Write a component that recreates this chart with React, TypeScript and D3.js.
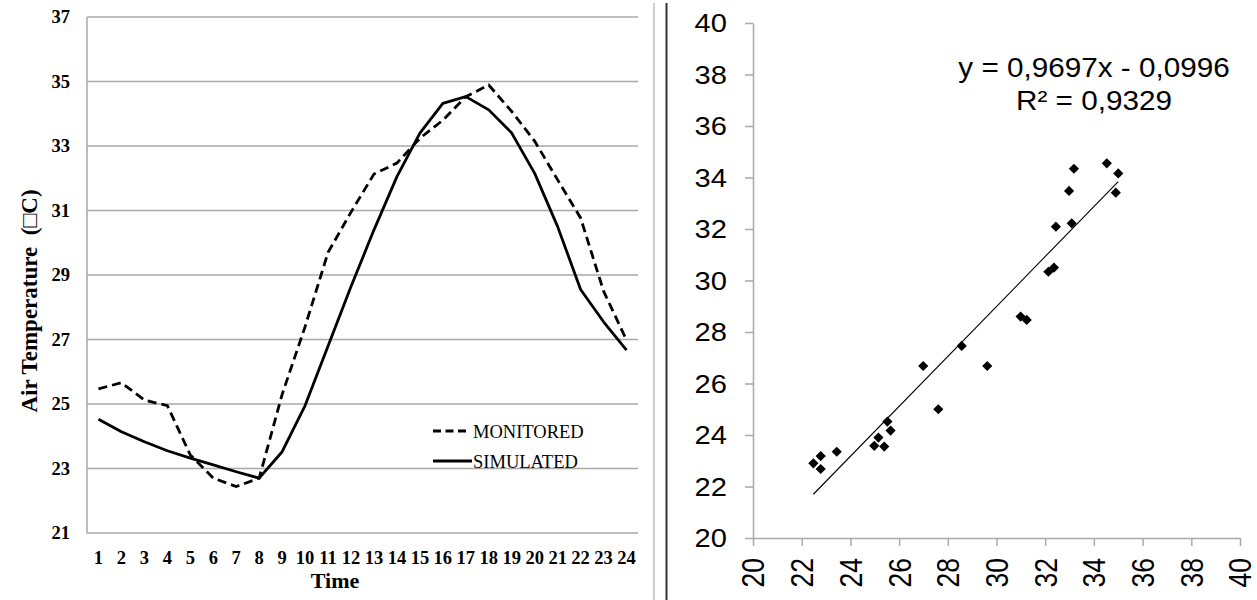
import React, { useEffect, useRef } from 'react';
import * as d3 from 'd3';

// Left chart: hourly air temperature
const hours = d3.range(1, 25);
const monitored = [25.47, 25.66, 25.12, 24.95, 23.42, 22.7, 22.44, 22.7, 25.3, 27.4, 29.7, 30.95,
  32.13, 32.47, 33.24, 33.8, 34.53, 34.89, 34.07, 33.15, 31.95, 30.77, 28.5, 26.98];
const simulated = [24.53, 24.14, 23.83, 23.55, 23.32, 23.11, 22.9, 22.7, 23.52, 24.95, 26.8, 28.64,
  30.4, 32.05, 33.4, 34.32, 34.53, 34.12, 33.4, 32.15, 30.5, 28.55, 27.55, 26.67];
const leftTicks = [21, 23, 25, 27, 29, 31, 33, 35, 37];

// Right chart: monitored (x) vs simulated (y)
const scatterX = [22.48, 22.78, 22.78, 23.44, 24.98, 25.15, 25.39, 25.52, 25.65, 26.99, 27.61, 28.57,
  29.62, 30.99, 31.24, 32.13, 32.36, 32.44, 33.09, 32.98, 33.18, 34.53, 35.0, 34.9];
const scatterY = [22.9, 23.18, 22.68, 23.35, 23.58, 23.9, 23.55, 24.52, 24.17, 26.68, 25.0, 27.46,
  26.68, 28.6, 28.47, 30.34, 30.5, 32.09, 32.22, 33.48, 34.34, 34.55, 34.16, 33.41];
const rightTicks = [20, 22, 24, 26, 28, 30, 32, 34, 36, 38, 40];
const slope = 0.9697;
const intercept = -0.0996;
const eqText = 'y = 0,9697x - 0,0996';
const r2Text = 'R² = 0,9329';

const App = () => {
  const svgRef = useRef();

  useEffect(() => {
    const width = 1257;
    const height = 600;
    const svg = d3.select(svgRef.current).attr('width', width).attr('height', height);
    svg.selectAll('*').remove();

    const serif = '"Liberation Serif", "Times New Roman", serif';
    const sans = '"Liberation Sans", Arial, sans-serif';
    const gridColor = '#a9a9a9';

    // ---------- left chart ----------
    const xL = d3.scalePoint().domain(hours).range([87, 638]).padding(0.5);
    const yL = d3.scaleLinear().domain([21, 37]).range([533, 17]);
    const left = svg.append('g');

    left.selectAll('line.grid')
      .data(leftTicks.slice(1))
      .join('line')
      .attr('class', 'grid')
      .attr('x1', 87)
      .attr('x2', 638)
      .attr('y1', (d) => yL(d))
      .attr('y2', (d) => yL(d))
      .attr('stroke', gridColor)
      .attr('stroke-width', 1.5);

    left.append('path')
      .attr('d', `M87,${yL(37)}V${yL(21)}H638`)
      .attr('fill', 'none')
      .attr('stroke', gridColor)
      .attr('stroke-width', 1.5);

    left.selectAll('text.ytick')
      .data(leftTicks)
      .join('text')
      .attr('class', 'ytick')
      .attr('x', 70)
      .attr('y', (d) => yL(d))
      .attr('dy', '0.35em')
      .attr('text-anchor', 'end')
      .attr('font-family', serif)
      .attr('font-weight', 'bold')
      .attr('font-size', 18.5)
      .text((d) => d);

    left.selectAll('text.xtick')
      .data(hours)
      .join('text')
      .attr('class', 'xtick')
      .attr('x', (d) => xL(d))
      .attr('y', 564)
      .attr('text-anchor', 'middle')
      .attr('font-family', serif)
      .attr('font-weight', 'bold')
      .attr('font-size', 18.5)
      .text((d) => d);

    left.append('text')
      .attr('x', 335)
      .attr('y', 588)
      .attr('text-anchor', 'middle')
      .attr('font-family', serif)
      .attr('font-weight', 'bold')
      .attr('font-size', 22)
      .text('Time');

    left.append('text')
      .attr('transform', 'translate(37,301) rotate(-90)')
      .attr('text-anchor', 'middle')
      .attr('font-family', serif)
      .attr('font-weight', 'bold')
      .attr('font-size', 23)
      .style('white-space', 'pre')
      .text('Air Temperature  (\u25A1C)');

    const line = d3.line()
      .x((d, i) => xL(hours[i]))
      .y((d) => yL(d));

    left.append('path')
      .attr('d', line(simulated))
      .attr('fill', 'none')
      .attr('stroke', '#000')
      .attr('stroke-width', 2.8)
      .attr('stroke-linejoin', 'round');

    left.append('path')
      .attr('d', line(monitored))
      .attr('fill', 'none')
      .attr('stroke', '#000')
      .attr('stroke-width', 2.8)
      .attr('stroke-dasharray', '9,5');

    // legend
    const legend = [
      { label: 'MONITORED', dash: '8,4.5', x2: 466, y: 431 },
      { label: 'SIMULATED', dash: null, x2: 472, y: 461 },
    ];
    legend.forEach((d) => {
      left.append('line')
        .attr('x1', 433)
        .attr('x2', d.x2)
        .attr('y1', d.y)
        .attr('y2', d.y)
        .attr('stroke', '#000')
        .attr('stroke-width', 2.8)
        .attr('stroke-dasharray', d.dash);
      left.append('text')
        .attr('x', 473)
        .attr('y', d.y + 6.5)
        .attr('font-family', serif)
        .attr('font-size', 18.5)
        .text(d.label);
    });

    // ---------- divider ----------
    svg.append('line')
      .attr('x1', 654).attr('x2', 654).attr('y1', 3).attr('y2', height)
      .attr('stroke', '#bdbdbd').attr('stroke-width', 1.5);
    svg.append('line')
      .attr('x1', 666.5).attr('x2', 666.5).attr('y1', 3).attr('y2', height)
      .attr('stroke', '#333').attr('stroke-width', 2);

    // ---------- right chart ----------
    const xR = d3.scaleLinear().domain([20, 40]).range([753, 1240]);
    const yR = d3.scaleLinear().domain([20, 40]).range([538, 23]);
    const right = svg.append('g');

    const yAxis = right.append('g')
      .attr('transform', 'translate(753,0)')
      .call(d3.axisLeft(yR).tickValues(rightTicks).tickSize(8).tickSizeOuter(0).tickFormat(''));
    const xAxis = right.append('g')
      .attr('transform', 'translate(0,538)')
      .call(d3.axisBottom(xR).tickValues(rightTicks).tickSize(8).tickSizeOuter(0).tickFormat(''));
    [yAxis, xAxis].forEach((a) => {
      a.selectAll('path, line').attr('stroke', gridColor).attr('stroke-width', 1.5);
    });

    right.selectAll('text.ytick')
      .data(rightTicks)
      .join('text')
      .attr('class', 'ytick')
      .attr('transform', (d) => `translate(727,${yR(d)}) scale(1.12,1)`)
      .attr('dy', '0.36em')
      .attr('text-anchor', 'end')
      .attr('font-family', sans)
      .attr('font-size', 26)
      .text((d) => d);

    right.selectAll('text.xtick')
      .data(rightTicks)
      .join('text')
      .attr('class', 'xtick')
      .attr('transform', (d) => `translate(${xR(d)},558) scale(1.2,1) rotate(-90)`)
      .attr('dy', '0.36em')
      .attr('text-anchor', 'end')
      .attr('font-family', sans)
      .attr('font-size', 26.5)
      .text((d) => d);

    const xMin = d3.min(scatterX);
    const xMax = d3.max(scatterX);
    right.append('line')
      .attr('x1', xR(xMin))
      .attr('y1', yR(slope * xMin + intercept))
      .attr('x2', xR(xMax))
      .attr('y2', yR(slope * xMax + intercept))
      .attr('stroke', '#000')
      .attr('stroke-width', 1.1);

    const diamond = d3.symbol(d3.symbolSquare, 52);
    right.selectAll('path.pt')
      .data(scatterX)
      .join('path')
      .attr('class', 'pt')
      .attr('d', diamond)
      .attr('transform', (d, i) => `translate(${xR(d)},${yR(scatterY[i])}) rotate(45)`)
      .attr('fill', '#000');

    [eqText, r2Text].forEach((t, i) => {
      right.append('text')
        .attr('transform', `translate(1094,${77 + i * 33}) scale(1.06,1)`)
        .attr('text-anchor', 'middle')
        .attr('font-family', sans)
        .attr('font-size', 28)
        .text(t);
    });
  }, []);

  return <svg ref={svgRef} style={{ position: 'absolute', left: 0, top: 0, background: '#fff' }}></svg>;
};

export default App;
